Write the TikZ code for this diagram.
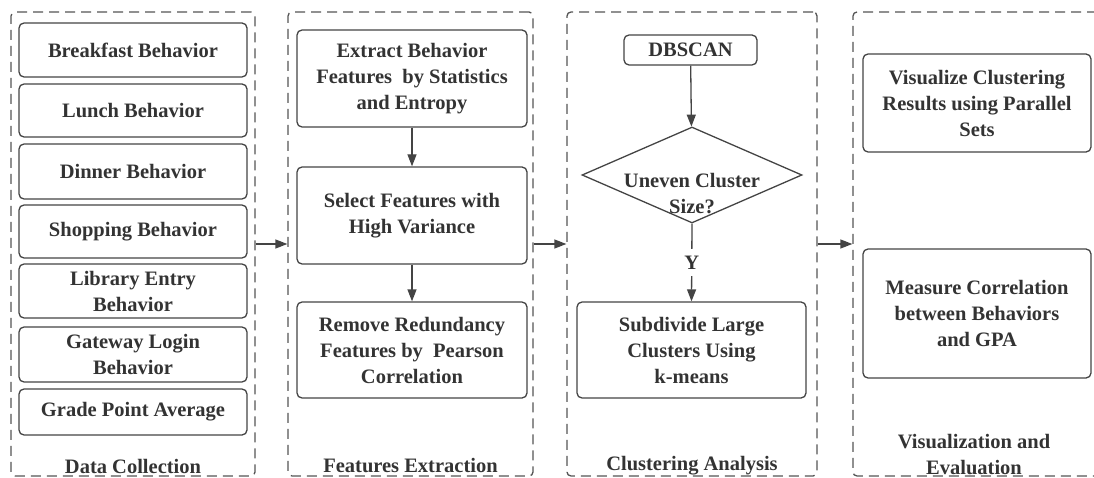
\documentclass[tikz,border=0pt]{standalone}
\usepackage{fontspec}
\setmainfont{LiberationSerif}[Extension=.ttf, UprightFont=*-Regular, BoldFont=*-Bold, ItalicFont=*-Italic, BoldItalicFont=*-BoldItalic]
\usetikzlibrary{arrows.meta,shapes.geometric}
\definecolor{ink}{HTML}{333333}
\definecolor{edge}{HTML}{444444}
\definecolor{dashc}{HTML}{555555}
\tikzset{
  lbl/.style={font=\fontsize{20.5}{26}\selectfont\bfseries, text=ink, align=center, inner sep=0pt},
  box/.style={lbl, draw=edge, line width=1.3pt, rounded corners=5pt},
  frame/.style={draw=dashc, line width=1.3pt, dash pattern=on 10pt off 6pt, rounded corners=4pt},
  arr/.style={draw=edge, line width=1.3pt, -{Triangle[length=12pt,width=9pt]}},
}
\begin{document}
\begin{tikzpicture}[x=1pt,y=-1pt]
\useasboundingbox (0,0) rectangle (1094,478);
\begin{scope}
\clip (0,0) rectangle (1094,478);
% stage frames
\node[frame, minimum width=244pt, minimum height=464pt] (f1) at (133,244) {};
\node[frame, minimum width=245pt, minimum height=464pt] (f2) at (410.5,244) {};
\node[frame, minimum width=250pt, minimum height=464pt] (f3) at (692,244) {};
\node[frame, minimum width=248pt, minimum height=464pt] (f4) at (977,244) {};
\end{scope}

% data collection
\node[box, minimum width=228pt, minimum height=54pt] (b1) at (133,50) {Breakfast Behavior};
\node[box, minimum width=228pt, minimum height=53pt] (b2) at (133,110.5) {Lunch Behavior};
\node[box, minimum width=228pt, minimum height=55pt] (b3) at (133,171.5) {Dinner Behavior};
\node[box, minimum width=228pt, minimum height=53pt] (b4) at (133,231.5) {Shopping Behavior};
\node[box, minimum width=228pt, minimum height=54pt] (b5) at (133,291) {Library Entry\\Behavior};
\node[box, minimum width=228pt, minimum height=55pt] (b6) at (133,354.5) {Gateway Login\\Behavior};
\node[box, minimum width=228pt, minimum height=46pt] (b7) at (133,412) {Grade Point Average};
\node[lbl] (t1) at (133,466) {Data Collection};

% feature extraction
\node[box, minimum width=230pt, minimum height=97pt] (e1) at (412,78.5) {Extract Behavior\\Features\ \ by Statistics\\and Entropy};
\node[box, minimum width=230pt, minimum height=97pt] (e2) at (412,215.5) {Select Features with\\High Variance};
\node[box, minimum width=230pt, minimum height=96pt] (e3) at (412,350) {Remove Redundancy\\Features by\ \ Pearson\\Correlation};
\node[lbl] (t2) at (410.5,466) {Features Extraction};
\draw[arr] (e1) -- (e2);
\draw[arr] (e2) -- (e3);

% clustering
\node[box, minimum width=133pt, minimum height=30pt] (c1) at (690.5,50) {DBSCAN};
\node[diamond, draw=edge, line width=1.3pt, inner sep=0pt, minimum width=220pt, minimum height=96pt] (c2) at (692,175) {};
\node[lbl] (c2t) at (692,194) {Uneven Cluster\\Size?};
\node[box, minimum width=229pt, minimum height=96pt] (c3) at (691.5,350) {Subdivide Large\\Clusters Using\\k-means};
\node[lbl] (t3) at (692,466) {Clustering Analysis};
\draw[arr] (c1) -- (c2);
\draw[arr] (c2.south) -- node[lbl, fill=white, inner xsep=3pt, inner ysep=7pt] (yes) {Y} (c3.north);

% visualization and evaluation
\node[box, minimum width=228pt, minimum height=98pt] (v1) at (977,103) {Visualize Clustering\\Results using Parallel\\Sets};
\node[box, minimum width=228pt, minimum height=129pt] (v2) at (977,313.5) {Measure Correlation\\between Behaviors\\and GPA};
\node[lbl] (t4) at (974,455) {Visualization and\\Evaluation};

% stage flow
\draw[arr] (f1.east) -- (f2.west);
\draw[arr] (f2.east) -- (f3.west);
\draw[arr] (f3.east) -- (f4.west);
\end{tikzpicture}
\end{document}
